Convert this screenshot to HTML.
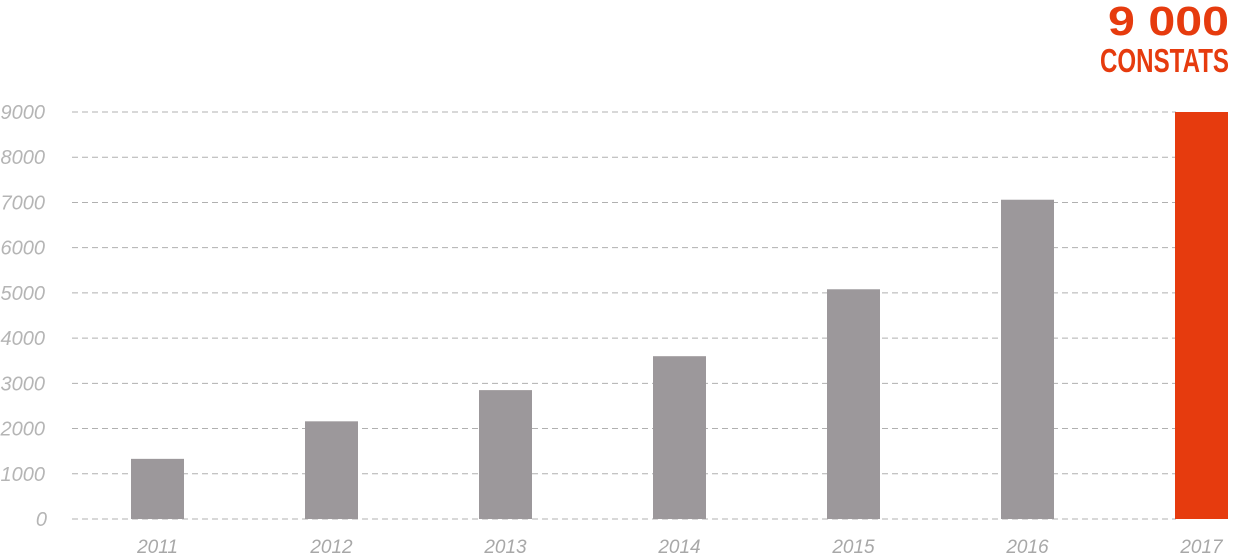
<!DOCTYPE html>
<html><head><meta charset="utf-8"><style>
html,body{margin:0;padding:0;background:#fff;width:1237px;height:557px;overflow:hidden}
svg{display:block}
</style></head><body>
<svg id="chart" width="1237" height="557">
<text x="1108" y="35" textLength="121" lengthAdjust="spacingAndGlyphs" font-family="'Liberation Sans Narrow','Liberation Sans',sans-serif" font-weight="bold" font-size="41" fill="#e63b0e">9 000</text>
<text x="1100" y="72" textLength="129" lengthAdjust="spacingAndGlyphs" font-family="'Liberation Sans Narrow','Liberation Sans',sans-serif" font-weight="bold" font-size="33" fill="#e63b0e">CONSTATS</text>
<g id="grid"></g><g id="bars"></g><g id="labels"></g>
</svg>
<script>
const categories=['2011','2012','2013','2014','2015','2016','2017'];
const values=[1330,2160,2850,3600,5080,7060,9000];
const yTicks=[0,1000,2000,3000,4000,5000,6000,7000,8000,9000];
const ns='http://www.w3.org/2000/svg';
const y0=519,yTop=112,vMax=9000;
const y=v=>y0-(v/vMax)*(y0-yTop);
const x=i=>131+i*174;
const bw=53;
const g=document.getElementById('grid'),b=document.getElementById('bars'),l=document.getElementById('labels');
yTicks.forEach(t=>{
  const ln=document.createElementNS(ns,'line');
  
  
  ln.setAttribute('x1',72);ln.setAttribute('x2',1176);
  ln.setAttribute('y1',y(t));ln.setAttribute('y2',y(t));
  ln.setAttribute('stroke','#b0b0b0');ln.setAttribute('stroke-dasharray','6 4');
  g.appendChild(ln);
  const tx=document.createElementNS(ns,'text');
  
  
  tx.setAttribute('x',t===0?47:45);tx.setAttribute('y',y(t)+7);
  tx.setAttribute('text-anchor','end');tx.setAttribute('font-style','italic');
  tx.setAttribute('font-family','Liberation Sans, sans-serif');tx.setAttribute('font-size','20');
  tx.setAttribute('fill','#b5b5b5');
  tx.textContent=t;
  l.appendChild(tx);
});
categories.forEach((c,i)=>{
  const r=document.createElementNS(ns,'rect');
  
  
  r.setAttribute('x',x(i));r.setAttribute('width',bw);
  r.setAttribute('y',y(values[i]));r.setAttribute('height',y0-y(values[i]));
  r.setAttribute('fill',i===categories.length-1?'#e63b0e':'#9c989b');
  b.appendChild(r);
  const tx=document.createElementNS(ns,'text');
  
  
  tx.setAttribute('x',x(i)+bw/2);tx.setAttribute('y',553);
  tx.setAttribute('text-anchor','middle');tx.setAttribute('font-style','italic');
  tx.setAttribute('font-family','Liberation Sans, sans-serif');tx.setAttribute('font-size','19');
  tx.setAttribute('fill','#a8a8a8');
  tx.textContent=c;
  l.appendChild(tx);
});
</script>
</body></html>
